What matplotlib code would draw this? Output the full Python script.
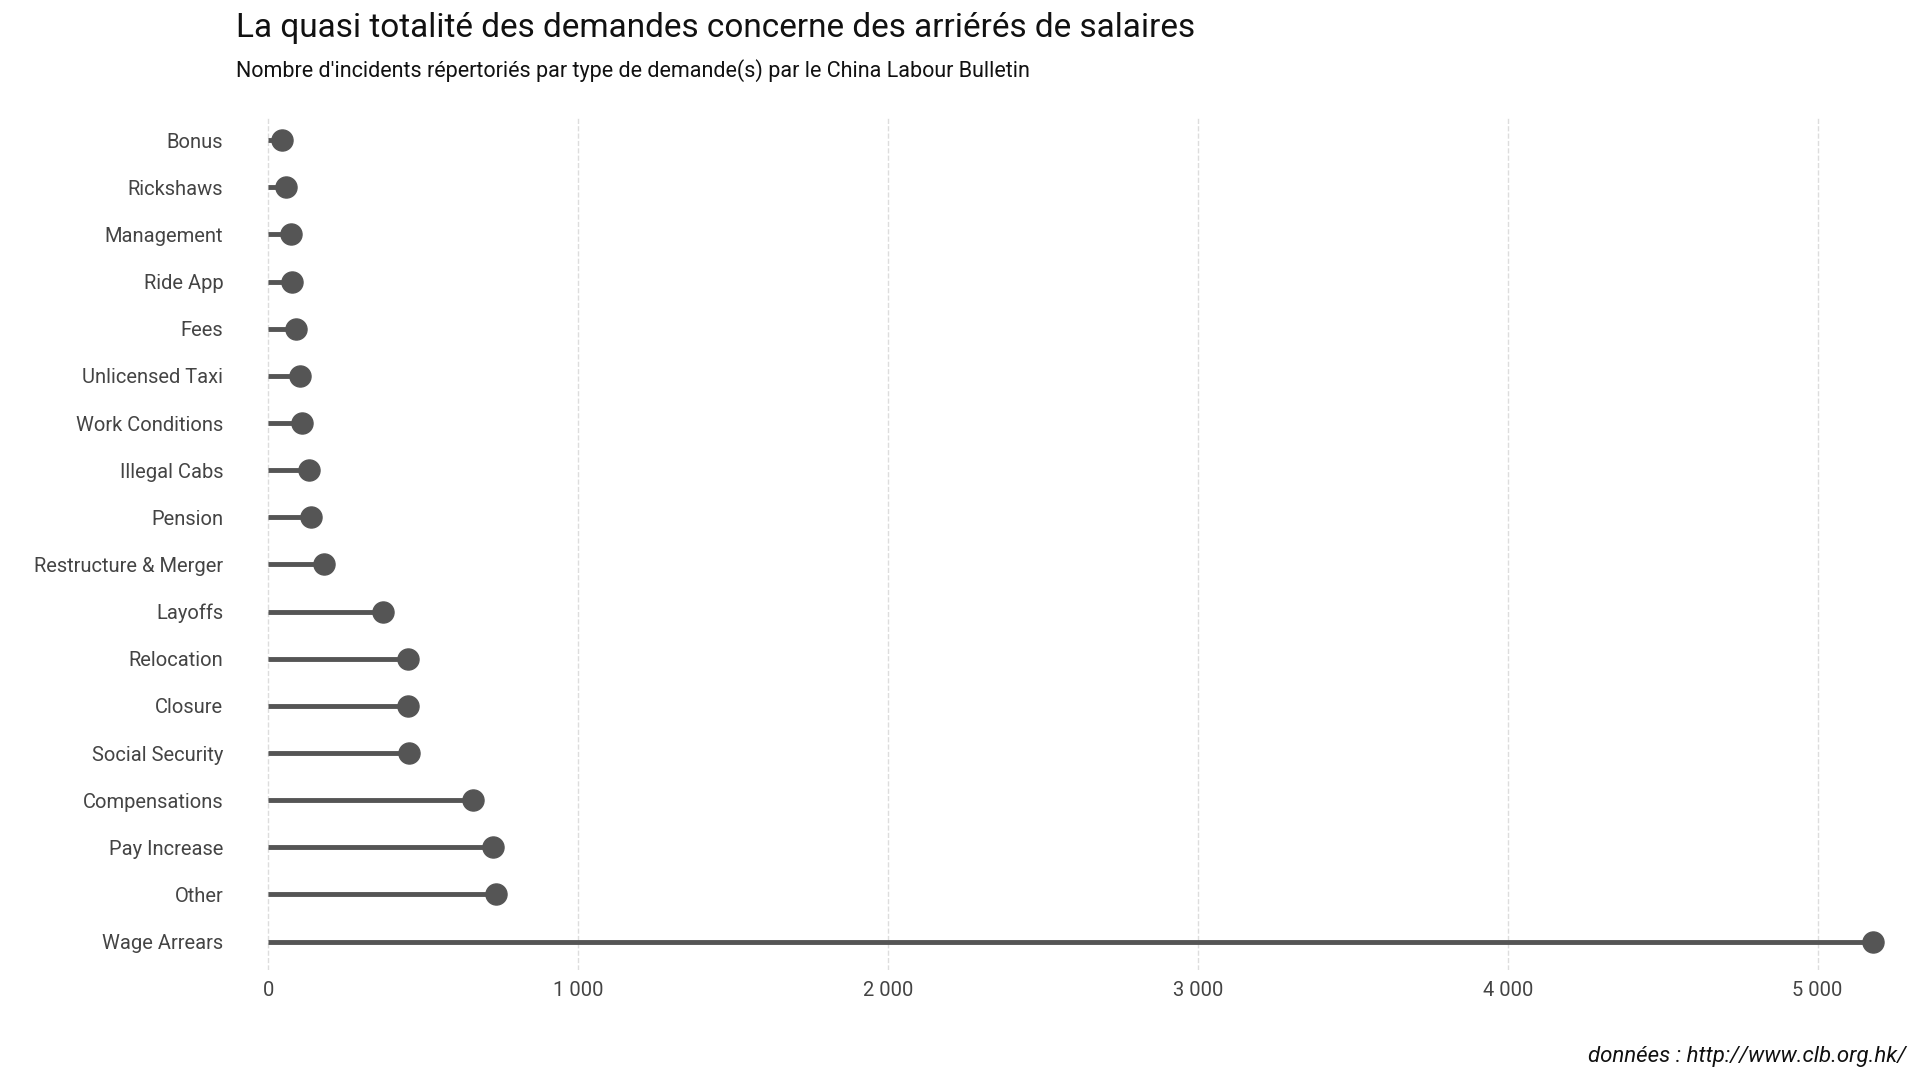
import matplotlib.pyplot as plt

plt.rcParams['font.family'] = ['Roboto', 'DejaVu Sans']

#----- Data -----
categories = ["Wage Arrears", "Other", "Pay Increase", "Compensations", "Social Security",
              "Closure", "Relocation", "Layoffs", "Restructure & Merger", "Pension",
              "Illegal Cabs", "Work Conditions", "Unlicensed Taxi", "Fees", "Ride App",
              "Management", "Rickshaws", "Bonus"]
counts = [5180, 735, 725, 659, 455, 452, 451, 369, 180, 138,
          131, 109, 101, 90, 77, 73, 57, 43]
ticks = [0, 1000, 2000, 3000, 4000, 5000]
tick_labels = ["0", "1 000", "2 000", "3 000", "4 000", "5 000"]

col = "#555555"
fig = plt.figure(figsize=(19.2, 10.8), dpi=100)
ax = fig.add_axes([0.122, 0.102, 0.865, 0.79])

ypos = list(range(len(categories)))
ax.hlines(ypos, 0, counts, color=col, linewidth=3.5)
ax.scatter(counts, ypos, s=230, color=col, zorder=3)

ax.set_xlim(-110, 5250)
ax.set_ylim(-0.6, len(categories) - 0.5)
ax.set_yticks(ypos)
ax.set_yticklabels(categories)
ax.set_xticks(ticks)
ax.set_xticklabels(tick_labels)
ax.tick_params(axis="both", length=0, labelsize=14.5, colors="#444444", pad=8)
ax.grid(axis="x", color="#dddddd", linestyle="--", linewidth=1)
ax.set_axisbelow(True)
for s in ax.spines.values():
    s.set_visible(False)

fig.text(0.123, 0.974, "La quasi totalité des demandes concerne des arriérés de salaires",
         fontsize=24, va="center", color="#111111")
fig.text(0.123, 0.935, "Nombre d'incidents répertoriés par type de demande(s) par le China Labour Bulletin",
         fontsize=15.5, va="center", color="#111111")
fig.text(0.993, 0.022, "données : http://www.clb.org.hk/", fontsize=16, style="italic",
         ha="right", va="center", color="#111111")

plt.savefig("out.png")
